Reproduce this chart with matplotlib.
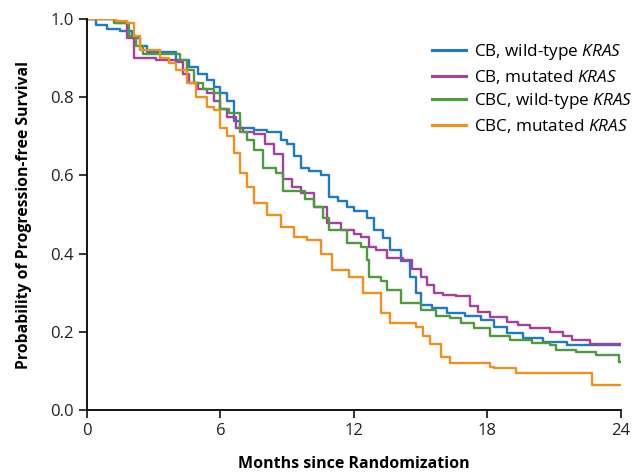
import matplotlib
matplotlib.use("Agg")
import matplotlib.pyplot as plt

# Kaplan-Meier style curves (months, survival)
cb_wt_t = [0, 0.4, 0.9, 1.5, 2.0, 2.4, 2.7, 4.0, 4.6, 5.0, 5.4, 5.7, 6.0, 6.3, 6.6, 6.9, 7.5, 8.1, 8.7, 9.0,
           9.3, 9.6, 10.0, 10.5, 10.9, 11.3, 11.7, 12.0, 12.6, 12.9, 13.3, 13.6, 14.1, 14.5, 14.8, 15.0, 15.5,
           16.2, 17.0, 17.7, 18.3, 18.9, 19.6, 20.5, 21.6, 24]
cb_wt_s = [1.0, 0.985, 0.975, 0.97, 0.95, 0.93, 0.915, 0.895, 0.877, 0.86, 0.845, 0.826, 0.81, 0.79, 0.74, 0.72,
           0.715, 0.71, 0.69, 0.68, 0.65, 0.62, 0.61, 0.60, 0.545, 0.535, 0.52, 0.51, 0.49, 0.46, 0.44, 0.41, 0.38,
           0.34, 0.30, 0.27, 0.26, 0.248, 0.24, 0.23, 0.213, 0.196, 0.184, 0.175, 0.166, 0.166]

cb_mut_t = [0, 1.3, 1.8, 2.1, 3.1, 3.5, 4.0, 4.3, 4.6, 5.0, 5.4, 5.7, 6.0, 6.3, 6.7, 7.0, 7.5, 8.0, 8.4, 8.8,
            9.2, 9.6, 10.2, 10.8, 11.4, 12.0, 12.3, 12.7, 13.0, 13.5, 14.2, 14.6, 15.0, 15.3, 15.6, 16.0, 16.6,
            17.2, 17.6, 18.1, 18.9, 19.4, 19.9, 20.8, 21.4, 21.8, 22.6, 24]
cb_mut_s = [1.0, 0.99, 0.95, 0.90, 0.895, 0.895, 0.89, 0.86, 0.835, 0.82, 0.81, 0.79, 0.77, 0.75, 0.72, 0.71,
            0.705, 0.68, 0.655, 0.59, 0.57, 0.555, 0.52, 0.478, 0.46, 0.45, 0.443, 0.418, 0.41, 0.39, 0.383, 0.36,
            0.34, 0.32, 0.30, 0.295, 0.293, 0.265, 0.25, 0.239, 0.226, 0.218, 0.21, 0.20, 0.19, 0.18, 0.17, 0.17]

cbc_wt_t = [0, 1.2, 1.9, 2.2, 2.5, 3.7, 4.2, 4.5, 4.8, 5.2, 5.7, 6.0, 6.4, 6.9, 7.2, 7.5, 7.9, 8.5, 8.8, 9.4,
            9.8, 10.2, 10.6, 10.9, 11.4, 11.7, 12.3, 12.6, 12.7, 13.2, 13.5, 14.1, 15.0, 15.7, 16.3, 16.8, 17.4,
            18.1, 19.0, 20.0, 20.8, 21.1, 22.0, 22.9, 23.9, 24]
cbc_wt_s = [1.0, 0.99, 0.955, 0.93, 0.91, 0.91, 0.895, 0.87, 0.835, 0.82, 0.81, 0.77, 0.76, 0.71, 0.69, 0.665,
            0.62, 0.605, 0.56, 0.56, 0.54, 0.52, 0.49, 0.46, 0.46, 0.426, 0.418, 0.383, 0.34, 0.33, 0.307, 0.273,
            0.256, 0.24, 0.235, 0.222, 0.21, 0.19, 0.18, 0.172, 0.166, 0.153, 0.148, 0.14, 0.123, 0.123]

cbc_mut_t = [0, 1.3, 1.8, 2.1, 2.4, 3.3, 3.7, 4.0, 4.5, 4.9, 5.4, 5.7, 6.0, 6.3, 6.6, 6.9, 7.2, 7.5, 8.1, 8.7,
             9.3, 9.9, 10.5, 11.0, 11.8, 12.4, 13.2, 13.6, 14.8, 15.1, 15.4, 15.9, 16.3, 18.1, 18.3, 19.3, 22.7, 24]
cbc_mut_s = [1.0, 0.995, 0.99, 0.955, 0.92, 0.90, 0.887, 0.87, 0.835, 0.80, 0.775, 0.767, 0.72, 0.70, 0.657,
             0.605, 0.57, 0.53, 0.50, 0.468, 0.443, 0.435, 0.40, 0.358, 0.34, 0.30, 0.248, 0.222, 0.213, 0.19,
             0.17, 0.136, 0.12, 0.11, 0.107, 0.095, 0.064, 0.064]

labels = ["CB, wild-type $\\it{KRAS}$", "CB, mutated $\\it{KRAS}$",
          "CBC, wild-type $\\it{KRAS}$", "CBC, mutated $\\it{KRAS}$"]
colors = ["#1f7bc1", "#a5409f", "#4e9a3f", "#f0911f"]
x_ticks = [0, 6, 12, 18, 24]
y_ticks = [0.0, 0.2, 0.4, 0.6, 0.8, 1.0]

plt.rcParams['font.family'] = ['Open Sans', 'DejaVu Sans']
plt.rcParams['mathtext.fontset'] = 'custom'
plt.rcParams['mathtext.it'] = 'Open Sans:italic'
plt.rcParams['mathtext.rm'] = 'Open Sans'

fig = plt.figure(figsize=(6.4, 4.72), dpi=100)
ax = fig.add_axes([0.136, 0.131, 0.834, 0.829])

series = [(cb_wt_t, cb_wt_s), (cb_mut_t, cb_mut_s), (cbc_wt_t, cbc_wt_s), (cbc_mut_t, cbc_mut_s)]
for (t, s), c, lab in zip(series, colors, labels):
    ax.step(t, s, where='post', color=c, linewidth=1.7, label=lab)

ax.set_xlim(0, 24)
ax.set_ylim(0, 1.0)
ax.set_xticks(x_ticks)
ax.set_yticks(y_ticks)
ax.set_yticklabels(["%.1f" % v for v in y_ticks])
for side in ['top', 'right']:
    ax.spines[side].set_visible(False)
for side in ['left', 'bottom']:
    ax.spines[side].set_linewidth(1.3)
ax.tick_params(direction='out', length=6, width=1.3, labelsize=12, colors='#222222')
ax.set_xlabel("Months since Randomization", fontsize=11.5, fontweight='bold', labelpad=12)
ax.set_ylabel("Probability of Progression-free Survival", fontsize=11.3, fontweight='bold', labelpad=13)

leg = ax.legend(loc='upper right', bbox_to_anchor=(1.05, 0.98), frameon=False, fontsize=12.3,
                handlelength=2.0, handletextpad=0.45, labelspacing=0.33)
for line in leg.get_lines():
    line.set_linewidth(2.2)

fig.savefig("out.png", dpi=100)
